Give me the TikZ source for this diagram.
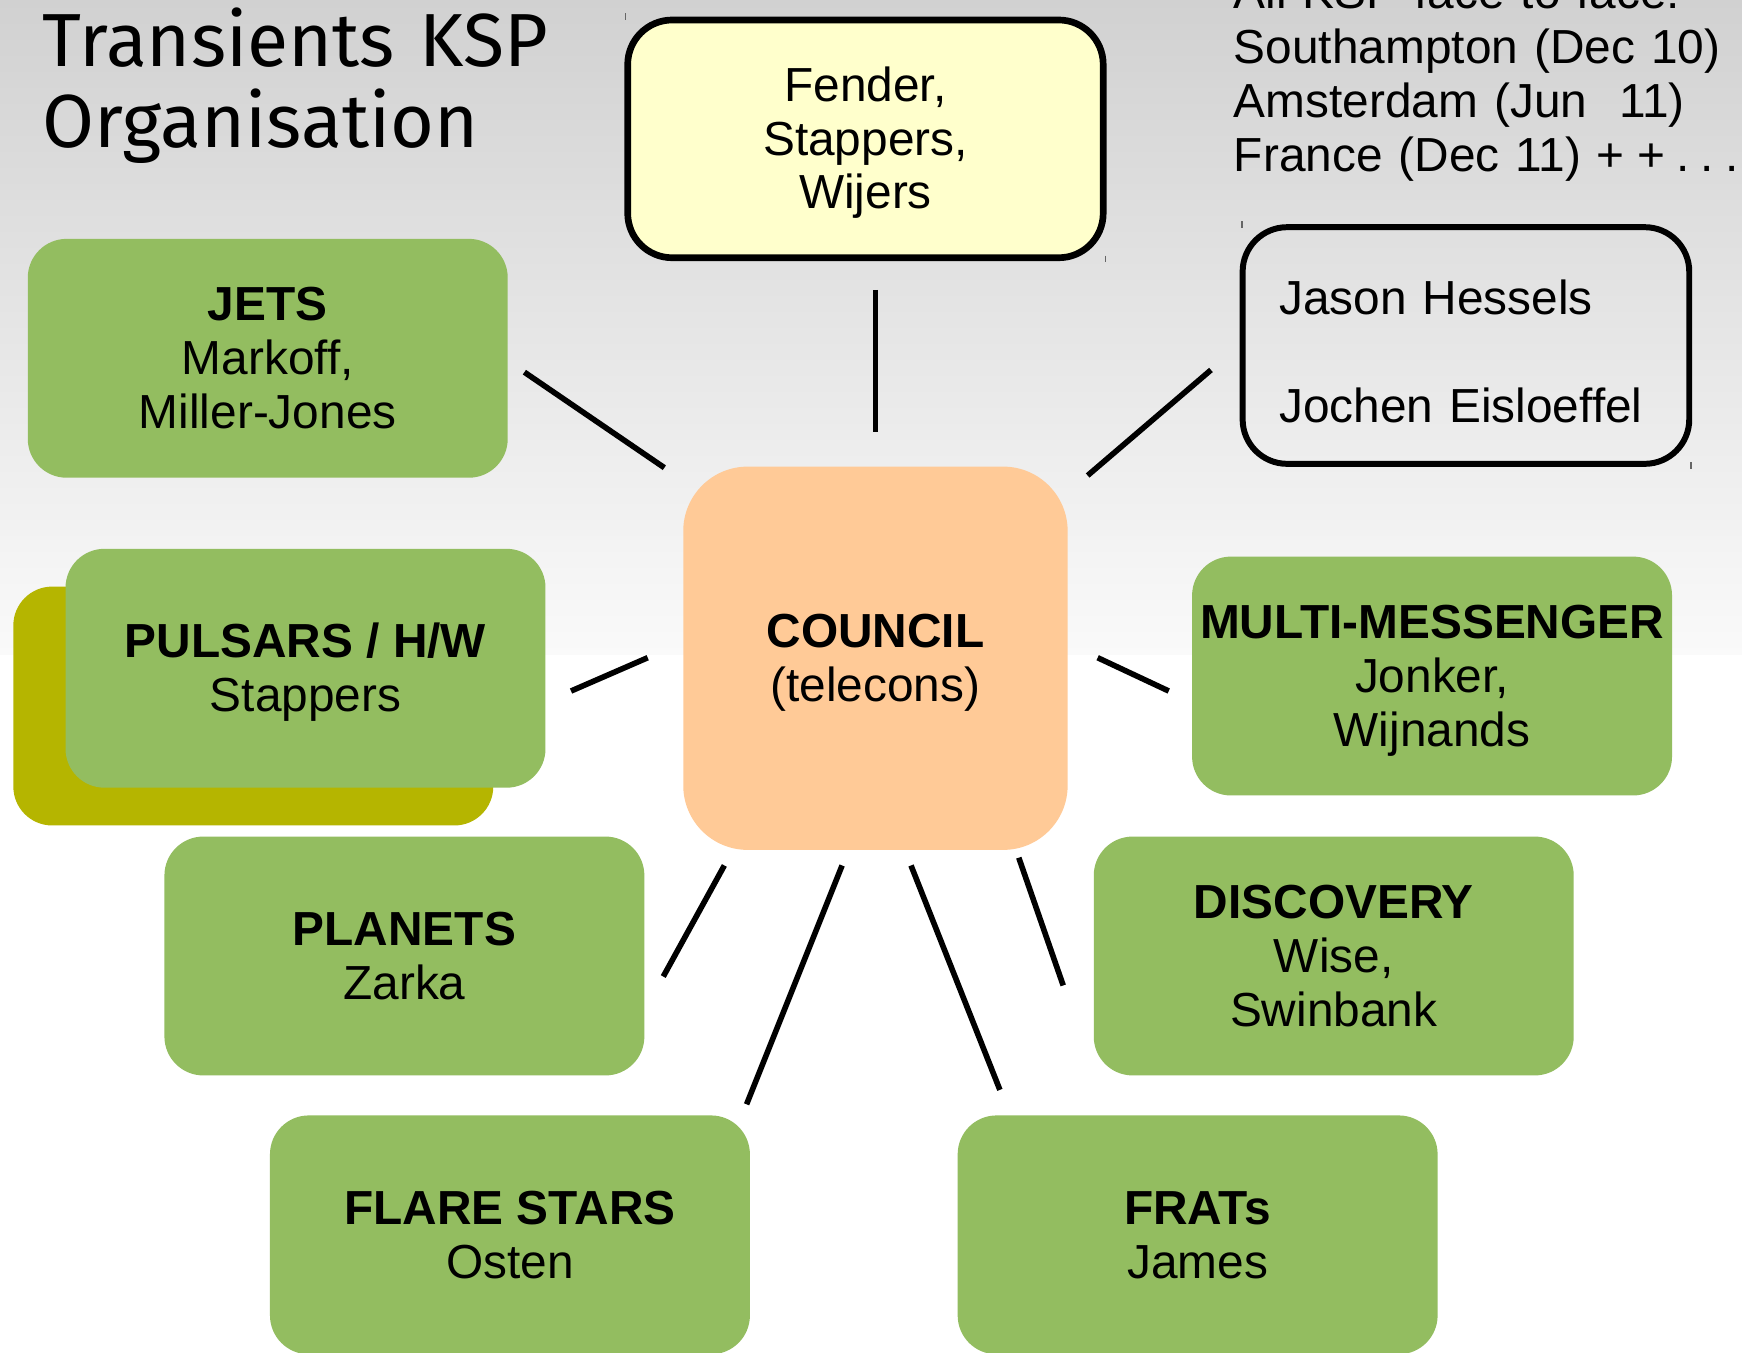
\documentclass[tikz,border=0pt]{standalone}
\usepackage{fontspec}
\setmainfont{Liberation Sans}
\newfontfamily\titlefont{Fira Sans}
\frenchspacing
\definecolor{kgreen}{HTML}{93BD60}
\definecolor{kolive}{HTML}{B5B500}
\definecolor{kpeach}{HTML}{FFCA97}
\definecolor{kyellow}{HTML}{FFFFCC}
\definecolor{bgtop}{HTML}{D1D1D1}
\definecolor{bgbot}{HTML}{FAFAFA}
\def\px{0.01111cm}
\newcommand{\bodyf}{\fontsize{13.6}{15.4}\selectfont\frenchspacing}
% strut with the line ascent / descent of the body font
\newcommand{\ks}{\rule[-2.9pt]{0pt}{15.2pt}}
\tikzset{
  gbox/.style={fill=kgreen, draw=none, rounded corners=35*\px, minimum width=432*\px,
    minimum height=215*\px, inner sep=0pt, align=center, font=\bodyf},
  obox/.style={gbox, fill=kolive},
  conn/.style={line width=1.6pt, black},
  tick/.style={line width=0.5pt, black!60},
}
\begin{document}
\begin{tikzpicture}[x=0.01111cm, y=-0.01111cm]
\useasboundingbox (0,0) rectangle (1568,1217);
\clip (0,0) rectangle (1568,1217);
% background
\shade[top color=bgtop, bottom color=bgbot] (0,0) rectangle (1568,590);
\fill[white] (0,590) rectangle (1568,1217);

% title
\node[anchor=base west, align=left, font=\titlefont\fontsize{21.4}{23}\selectfont, inner sep=0pt, text width=600*\px] (title) at (38,60) {Transients KSP\\Organisation};

% top right text
\node[anchor=base west, align=left, font=\bodyf, inner sep=0pt, text width=600*\px] (meet) at (1110,8)
  {All KSP face to face:\\Southampton (Dec 10)\\Amsterdam (Jun\ \ 11)\\France (Dec 11) +\kern-0.8pt\ +\kern-1.6pt\ .\kern3.2pt.\kern3.2pt.};

% Fender box
\node[draw=black, line width=1.9pt, fill=kyellow, rounded corners=40*\px, minimum width=428*\px,
  minimum height=214*\px, inner sep=0pt, align=center, font=\fontsize{13.6}{15.2}\selectfont] (fender) at (779,125)
  {\ks Fender,\\Stappers,\\Wijers\ks};
\draw[tick] (563,12) -- (563,18);
\draw[tick] (995,230) -- (995,236);

% Jason box
\node[draw=black, line width=1.7pt, rounded corners=40*\px, minimum width=402*\px,
  minimum height=213*\px, inner xsep=33*\px, inner ysep=0pt, text width=336*\px, align=left, font=\bodyf] (jason) at (1319.5,311)
  {\rule{0pt}{13.1pt}Jason Hessels\\[15.4pt]Jochen Eisloeffel};
\draw[tick] (1118,199) -- (1118,205);
\draw[tick] (1522,416) -- (1522,422);

% group boxes
\node[gbox] (jets) at (241,322.5) {\ks\textbf{JETS}\\Markoff,\\Miller-Jones\ks};
\node[obox] (pulsback) at (228,635.5) {};
\node[gbox] (pulsars) at (275,601.5) {\ks\textbf{PULSARS / H/W}\\Stappers\ks};
\node[fill=kpeach, rounded corners=58*\px, minimum width=346*\px, minimum height=345*\px,
  inner sep=0pt, align=center, font=\bodyf] (council) at (788,592.5) {\ks\textbf{COUNCIL}\\(telecons)\ks};
\node[gbox] (mm) at (1289,608.5) {\ks\textbf{MULTI-MESSENGER}\\Jonker,\\Wijnands\ks};
\node[gbox] (planets) at (364,860.5) {\ks\textbf{PLANETS}\\Zarka\ks};
\node[gbox] (disc) at (1200.5,860.5) {\ks\textbf{DISCOVERY}\\Wise,\\Swinbank\ks};
\node[gbox] (flare) at (459,1111.5) {\ks\textbf{FLARE STARS}\\Osten\ks};
\node[gbox] (frats) at (1078,1111.5) {\ks\textbf{FRATs}\\James\ks};

% connectors (free segments between groups and council)
\coordinate (c1a) at (472,335); \coordinate (c1b) at (598,421);
\coordinate (c2a) at (788,261); \coordinate (c2b) at (788,389);
\coordinate (c3a) at (1090,333); \coordinate (c3b) at (979,428);
\coordinate (c4a) at (514,622); \coordinate (c4b) at (583,592);
\coordinate (c5a) at (1052,622); \coordinate (c5b) at (988,592);
\coordinate (c6a) at (597,879); \coordinate (c6b) at (652,779);
\coordinate (c7a) at (672,994); \coordinate (c7b) at (758,779);
\coordinate (c8a) at (900,981); \coordinate (c8b) at (820,779);
\coordinate (c9a) at (957,887); \coordinate (c9b) at (917,772);
\foreach \a/\b in {c1a/c1b,c2a/c2b,c3a/c3b,c4a/c4b,c5a/c5b,c6a/c6b,c7a/c7b,c8a/c8b,c9a/c9b}
  \draw[conn] (\a) -- (\b);
\end{tikzpicture}
\end{document}
